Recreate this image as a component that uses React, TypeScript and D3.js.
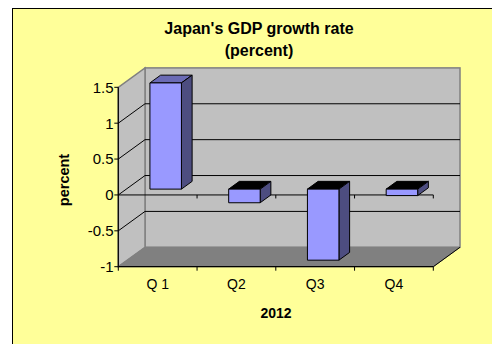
import React from "react";
import * as d3 from "d3";

const categories = ["Q 1", "Q2", "Q3", "Q4"];
const values = [1.48, -0.19, -0.99, -0.09];
const yTicks = [-1, -0.5, 0, 0.5, 1, 1.5];
const yTickLabels = ["-1", "-0.5", "0", "0.5", "1", "1.5"];
const title = ["Japan's GDP growth rate", "(percent)"];
const xTitle = "2012";
const yTitle = "percent";

const W = 492;
const H = 344;
const DX = 26.7;
const DY = 19.4;

export default function App() {
  const x = d3.scaleBand<string>().domain(categories).range([118.3, 433.3]).padding(0);
  const y = d3.scaleLinear().domain([-1, 1.5]).range([266.7, 87.3]);
  const bw = x.bandwidth();
  const px = (xv: number, d: number) => xv + d * DX;
  const py = (v: number, d: number) => y(v) - d * DY;
  const x0 = x.range()[0];
  const x1 = x.range()[1];
  const vMin = y.domain()[0];
  const vMax = y.domain()[1];
  const pts = (arr: [number, number][]) => arr.map((p) => p.join(",")).join(" ");
  const font = "'Liberation Sans', Arial, sans-serif";
  const boundaries = [...categories.map((c) => x(c) as number), x1];

  return (
    <svg width={W} height={H} style={{ position: "absolute", left: 0, top: 0, background: "#fff" }}>
      <rect x={12.5} y={8.5} width={500} height={400} fill="#FFFF99" stroke="#000" strokeWidth={1} />
      {title.map((t, i) => (
        <text key={i} x={259} y={34 + i * 21.5} textAnchor="middle" fontFamily={font} fontWeight="bold" fontSize={16} fill="#000">
          {t}
        </text>
      ))}
      {/* back wall */}
      <rect x={px(x0, 1)} y={py(vMax, 1)} width={x1 - x0} height={py(vMin, 1) - py(vMax, 1)} fill="#C0C0C0" stroke="#808080" strokeWidth={1.5} />
      {/* left wall */}
      <polygon
        points={pts([
          [px(x0, 0), py(vMax, 0)],
          [px(x0, 1), py(vMax, 1)],
          [px(x0, 1), py(vMin, 1)],
          [px(x0, 0), py(vMin, 0)],
        ])}
        fill="#C0C0C0"
        stroke="#808080"
        strokeWidth={1.5}
      />
      {/* floor */}
      <polygon
        points={pts([
          [px(x0, 0), py(vMin, 0)],
          [px(x1, 0), py(vMin, 0)],
          [px(x1, 1), py(vMin, 1)],
          [px(x0, 1), py(vMin, 1)],
        ])}
        fill="#808080"
        stroke="#808080"
        strokeWidth={1}
      />
      {/* gridlines */}
      {yTicks
        .filter((t) => t > vMin && t < vMax)
        .map((t) => (
          <g key={t}>
            <line x1={px(x0, 0)} y1={py(t, 0)} x2={px(x0, 1)} y2={py(t, 1)} stroke="#000" strokeWidth={1} />
            <line x1={px(x0, 1)} y1={py(t, 1)} x2={px(x1, 1)} y2={py(t, 1)} stroke="#000" strokeWidth={1} />
          </g>
        ))}
      {/* zero axis line */}
      <line x1={x0} y1={y(0)} x2={x1} y2={y(0)} stroke="#000" strokeWidth={1} />
      {boundaries.slice(1).map((b, i) => (
        <line key={i} x1={b} y1={y(0)} x2={b} y2={y(0) + 3.5} stroke="#000" strokeWidth={1} />
      ))}
      {/* bars */}
      {categories.map((c, i) => {
        const v = values[i];
        const bx0 = (x(c) as number) + bw * 0.3;
        const bx1 = bx0 + bw * 0.4;
        const d0 = 0.3;
        const d1 = 0.7;
        const top = Math.max(v, 0);
        const bot = Math.min(v, 0);
        return (
          <g key={c} stroke="#000" strokeWidth={1} strokeLinejoin="round">
            <polygon
              points={pts([
                [px(bx0, d0), py(top, d0)],
                [px(bx1, d0), py(top, d0)],
                [px(bx1, d1), py(top, d1)],
                [px(bx0, d1), py(top, d1)],
              ])}
              fill={v >= 0 ? "#6B6BB5" : "#000000"}
            />
            <polygon
              points={pts([
                [px(bx1, d0), py(top, d0)],
                [px(bx1, d1), py(top, d1)],
                [px(bx1, d1), py(bot, d1)],
                [px(bx1, d0), py(bot, d0)],
              ])}
              fill="#4D4D80"
            />
            <rect x={px(bx0, d0)} y={py(top, d0)} width={bx1 - bx0} height={py(bot, d0) - py(top, d0)} fill="#9999FF" />
          </g>
        );
      })}
      {/* front floor edge / x axis */}
      <line x1={x0} y1={y(vMin)} x2={x1} y2={y(vMin)} stroke="#000" strokeWidth={1.2} />
      <line x1={x1} y1={y(vMin)} x2={px(x1, 1)} y2={py(vMin, 1)} stroke="#000" strokeWidth={1} />
      {boundaries.map((b, i) => (
        <line key={i} x1={b} y1={y(vMin)} x2={b} y2={y(vMin) + 4} stroke="#000" strokeWidth={1} />
      ))}
      {/* y axis */}
      <line x1={x0} y1={y(vMax)} x2={x0} y2={y(vMin)} stroke="#000" strokeWidth={1.2} />
      {yTicks.map((t, i) => (
        <g key={t}>
          <line x1={x0 - 4} y1={y(t)} x2={x0} y2={y(t)} stroke="#000" strokeWidth={1} />
          <text x={113.5} y={y(t)} dy="0.36em" textAnchor="end" fontFamily={font} fontSize={15} fill="#000">
            {yTickLabels[i]}
          </text>
        </g>
      ))}
      {categories.map((c) => (
        <text key={c} x={(x(c) as number) + bw / 2} y={288.5} textAnchor="middle" fontFamily={font} fontSize={14} fill="#000">
          {c}
        </text>
      ))}
      <text x={276} y={318} textAnchor="middle" fontFamily={font} fontWeight="bold" fontSize={14} fill="#000">
        {xTitle}
      </text>
      <text transform="translate(69,180) rotate(-90)" textAnchor="middle" fontFamily={font} fontWeight="bold" fontSize={14.5} fill="#000">
        {yTitle}
      </text>
    </svg>
  );
}
